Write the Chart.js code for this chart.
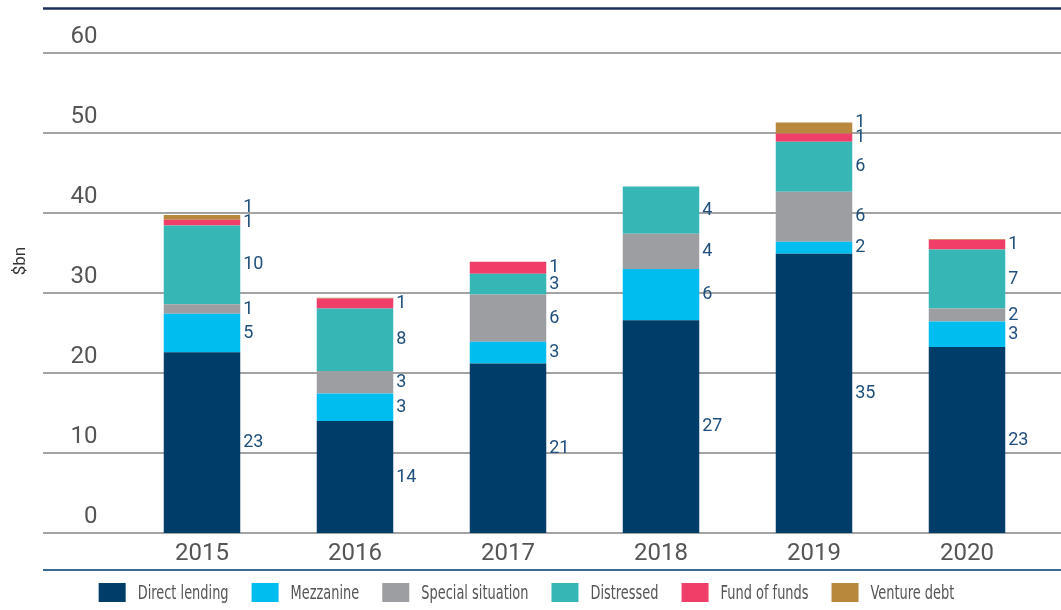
<!DOCTYPE html>
<html>
<head>
<meta charset="utf-8">
<script src="https://cdn.jsdelivr.net/npm/chart.js@4.4.1/dist/chart.umd.min.js"></script>
<style>
  html, body { margin: 0; padding: 0; background: #ffffff; }
  #wrap { width: 1061px; height: 610px; position: relative; }
</style>
</head>
<body>
<div id="wrap"><canvas id="fundChart"></canvas></div>
<script>
// Years on the x axis
const years = ['2015', '2016', '2017', '2018', '2019', '2020'];

// Segment heights ($bn)
const directLending = [22.6, 14.0, 21.2, 26.6, 34.9, 23.25];
const mezzanine = [4.8, 3.45, 2.7, 6.4, 1.5, 3.2];
const specialSituation = [1.2, 2.8, 5.9, 4.4, 6.25, 1.6];
const distressed = [9.85, 7.8, 2.6, 5.9, 6.25, 7.4];
const fundOfFunds = [0.7, 1.25, 1.5, 0, 1.05, 1.2];
const ventureDebt = [0.6, 0.1, 0, 0, 1.35, 0.1];

// Numbers printed next to each segment (null = no label)
const directLendingLabels = [23, 14, 21, 27, 35, 23];
const mezzanineLabels = [5, 3, 3, 6, 2, 3];
const specialSituationLabels = [1, 3, 6, 4, 6, 2];
const distressedLabels = [10, 8, 3, 4, 6, 7];
const fundOfFundsLabels = [1, 1, 1, null, 1, 1];
const ventureDebtLabels = [1, null, null, null, 1, null];

// Y axis ticks
const yTicks = [0, 10, 20, 30, 40, 50, 60];

const series = [
    { label: 'Direct lending', data: directLending, printed: directLendingLabels, color: '#003d68' },
    { label: 'Mezzanine', data: mezzanine, printed: mezzanineLabels, color: '#00bdf0' },
    { label: 'Special situation', data: specialSituation, printed: specialSituationLabels, color: '#9d9ea2' },
    { label: 'Distressed', data: distressed, printed: distressedLabels, color: '#36b7b6' },
    { label: 'Fund of funds', data: fundOfFunds, printed: fundOfFundsLabels, color: '#ef3e67' },
    { label: 'Venture debt', data: ventureDebt, printed: ventureDebtLabels, color: '#b8893d' }
];

// Grid lines spanning the full width + the two dark rules + unit label
const frameLines = {
    id: 'frameLines',
    beforeDatasetsDraw(chart) {
        const ctx = chart.ctx;
        const y = chart.scales.y;
        ctx.save();
        ctx.strokeStyle = '#a3a3a3';
        ctx.lineWidth = 2;
        yTicks.forEach(function(v) {
            const py = Math.round(y.getPixelForValue(v));
            ctx.beginPath();
            ctx.moveTo(43, py);
            ctx.lineTo(1061, py);
            ctx.stroke();
        });
        // top rule
        ctx.strokeStyle = '#1d2f5c';
        ctx.lineWidth = 2.5;
        ctx.beginPath();
        ctx.moveTo(43, 8.5);
        ctx.lineTo(1061, 8.5);
        ctx.stroke();
        // rule above the legend
        ctx.strokeStyle = '#3b6a92';
        ctx.lineWidth = 2;
        ctx.beginPath();
        ctx.moveTo(43, 570);
        ctx.lineTo(1061, 570);
        ctx.stroke();

        // "$bn" unit, rotated
        ctx.translate(21, 261);
        ctx.rotate(-Math.PI / 2);
        ctx.font = '17px Roboto, sans-serif';
        ctx.fillStyle = '#333333';
        ctx.textAlign = 'center';
        ctx.textBaseline = 'middle';
        ctx.fillText('$bn', 0, 0);
        ctx.restore();
    }
};

// Value labels to the right of each segment
const segmentLabels = {
    id: 'segmentLabels',
    afterDatasetsDraw(chart) {
        const ctx = chart.ctx;
        ctx.save();
        ctx.font = '18px Roboto, "DejaVu Sans", sans-serif';
        ctx.fillStyle = '#1f4f7c';
        ctx.textAlign = 'left';
        ctx.textBaseline = 'middle';
        years.forEach(function(_, i) {
            let lastY = Infinity;
            chart.data.datasets.forEach(function(ds, d) {
                const txt = series[d].printed[i];
                if (txt === null || txt === undefined) return;
                const bar = chart.getDatasetMeta(d).data[i];
                let cy = (bar.y + bar.base) / 2;
                if (cy > lastY - 15) cy = lastY - 15;
                lastY = cy;
                ctx.fillText(String(txt), bar.x + bar.width / 2 + 3, cy);
            });
        });
        ctx.restore();
    }
};

// Legend in a condensed face (no narrow font installed, so squeeze the text)
const narrowLegend = {
    id: 'narrowLegend',
    afterDraw(chart) {
        const ctx = chart.ctx;
        const squeeze = 0.72;
        const boxW = 27, boxH = 19, gap = 12, spacing = 23;
        ctx.save();
        ctx.font = '20px "DejaVu Sans Condensed", "DejaVu Sans", sans-serif';
        const widths = chart.data.datasets.map(function(ds) {
            return ctx.measureText(ds.label).width * squeeze;
        });
        let total = 0;
        widths.forEach(function(w) { total += boxW + gap + w; });
        total += spacing * (widths.length - 1);
        let x = 526.5 - total / 2;
        const midY = 592.5;
        chart.data.datasets.forEach(function(ds, d) {
            ctx.fillStyle = ds.backgroundColor;
            ctx.fillRect(x, midY - boxH / 2, boxW, boxH);
            x += boxW + gap;
            ctx.save();
            ctx.translate(x, midY);
            ctx.scale(squeeze, 1);
            ctx.fillStyle = '#555555';
            ctx.textAlign = 'left';
            ctx.textBaseline = 'middle';
            ctx.fillText(ds.label, 0, 1);
            ctx.restore();
            x += widths[d] + spacing;
        });
        ctx.restore();
    }
};

new Chart(document.getElementById('fundChart'), {
    type: 'bar',
    data: {
        labels: years,
        datasets: series.map(function(s) {
            return {
                label: s.label,
                data: s.data,
                backgroundColor: s.color,
                borderWidth: 0,
                barPercentage: 0.5,
                categoryPercentage: 1.0
            };
        })
    },
    options: {
        responsive: true,
        maintainAspectRatio: false,
        animation: false,
        layout: {
            padding: { top: 53, right: 17.5, left: 0, bottom: 0 }
        },
        plugins: {
            tooltip: { enabled: false },
            legend: { display: false }
        },
        scales: {
            x: {
                stacked: true,
                grid: { display: false, drawTicks: false },
                border: { display: false },
                ticks: {
                    color: '#555555',
                    padding: 7,
                    font: { family: 'Roboto, sans-serif', size: 24 }
                },
                afterFit: function(scale) { scale.height = 77; }
            },
            y: {
                stacked: true,
                min: 0,
                max: 60,
                grid: { display: false, drawTicks: false },
                border: { display: false },
                ticks: {
                    stepSize: 10,
                    color: '#555555',
                    padding: 28,
                    labelOffset: -16,
                    font: { family: 'Roboto, sans-serif', size: 24 }
                },
                afterFit: function(scale) { scale.width = 125.5; }
            }
        }
    },
    plugins: [frameLines, segmentLabels, narrowLegend]
});
</script>
</body>
</html>
